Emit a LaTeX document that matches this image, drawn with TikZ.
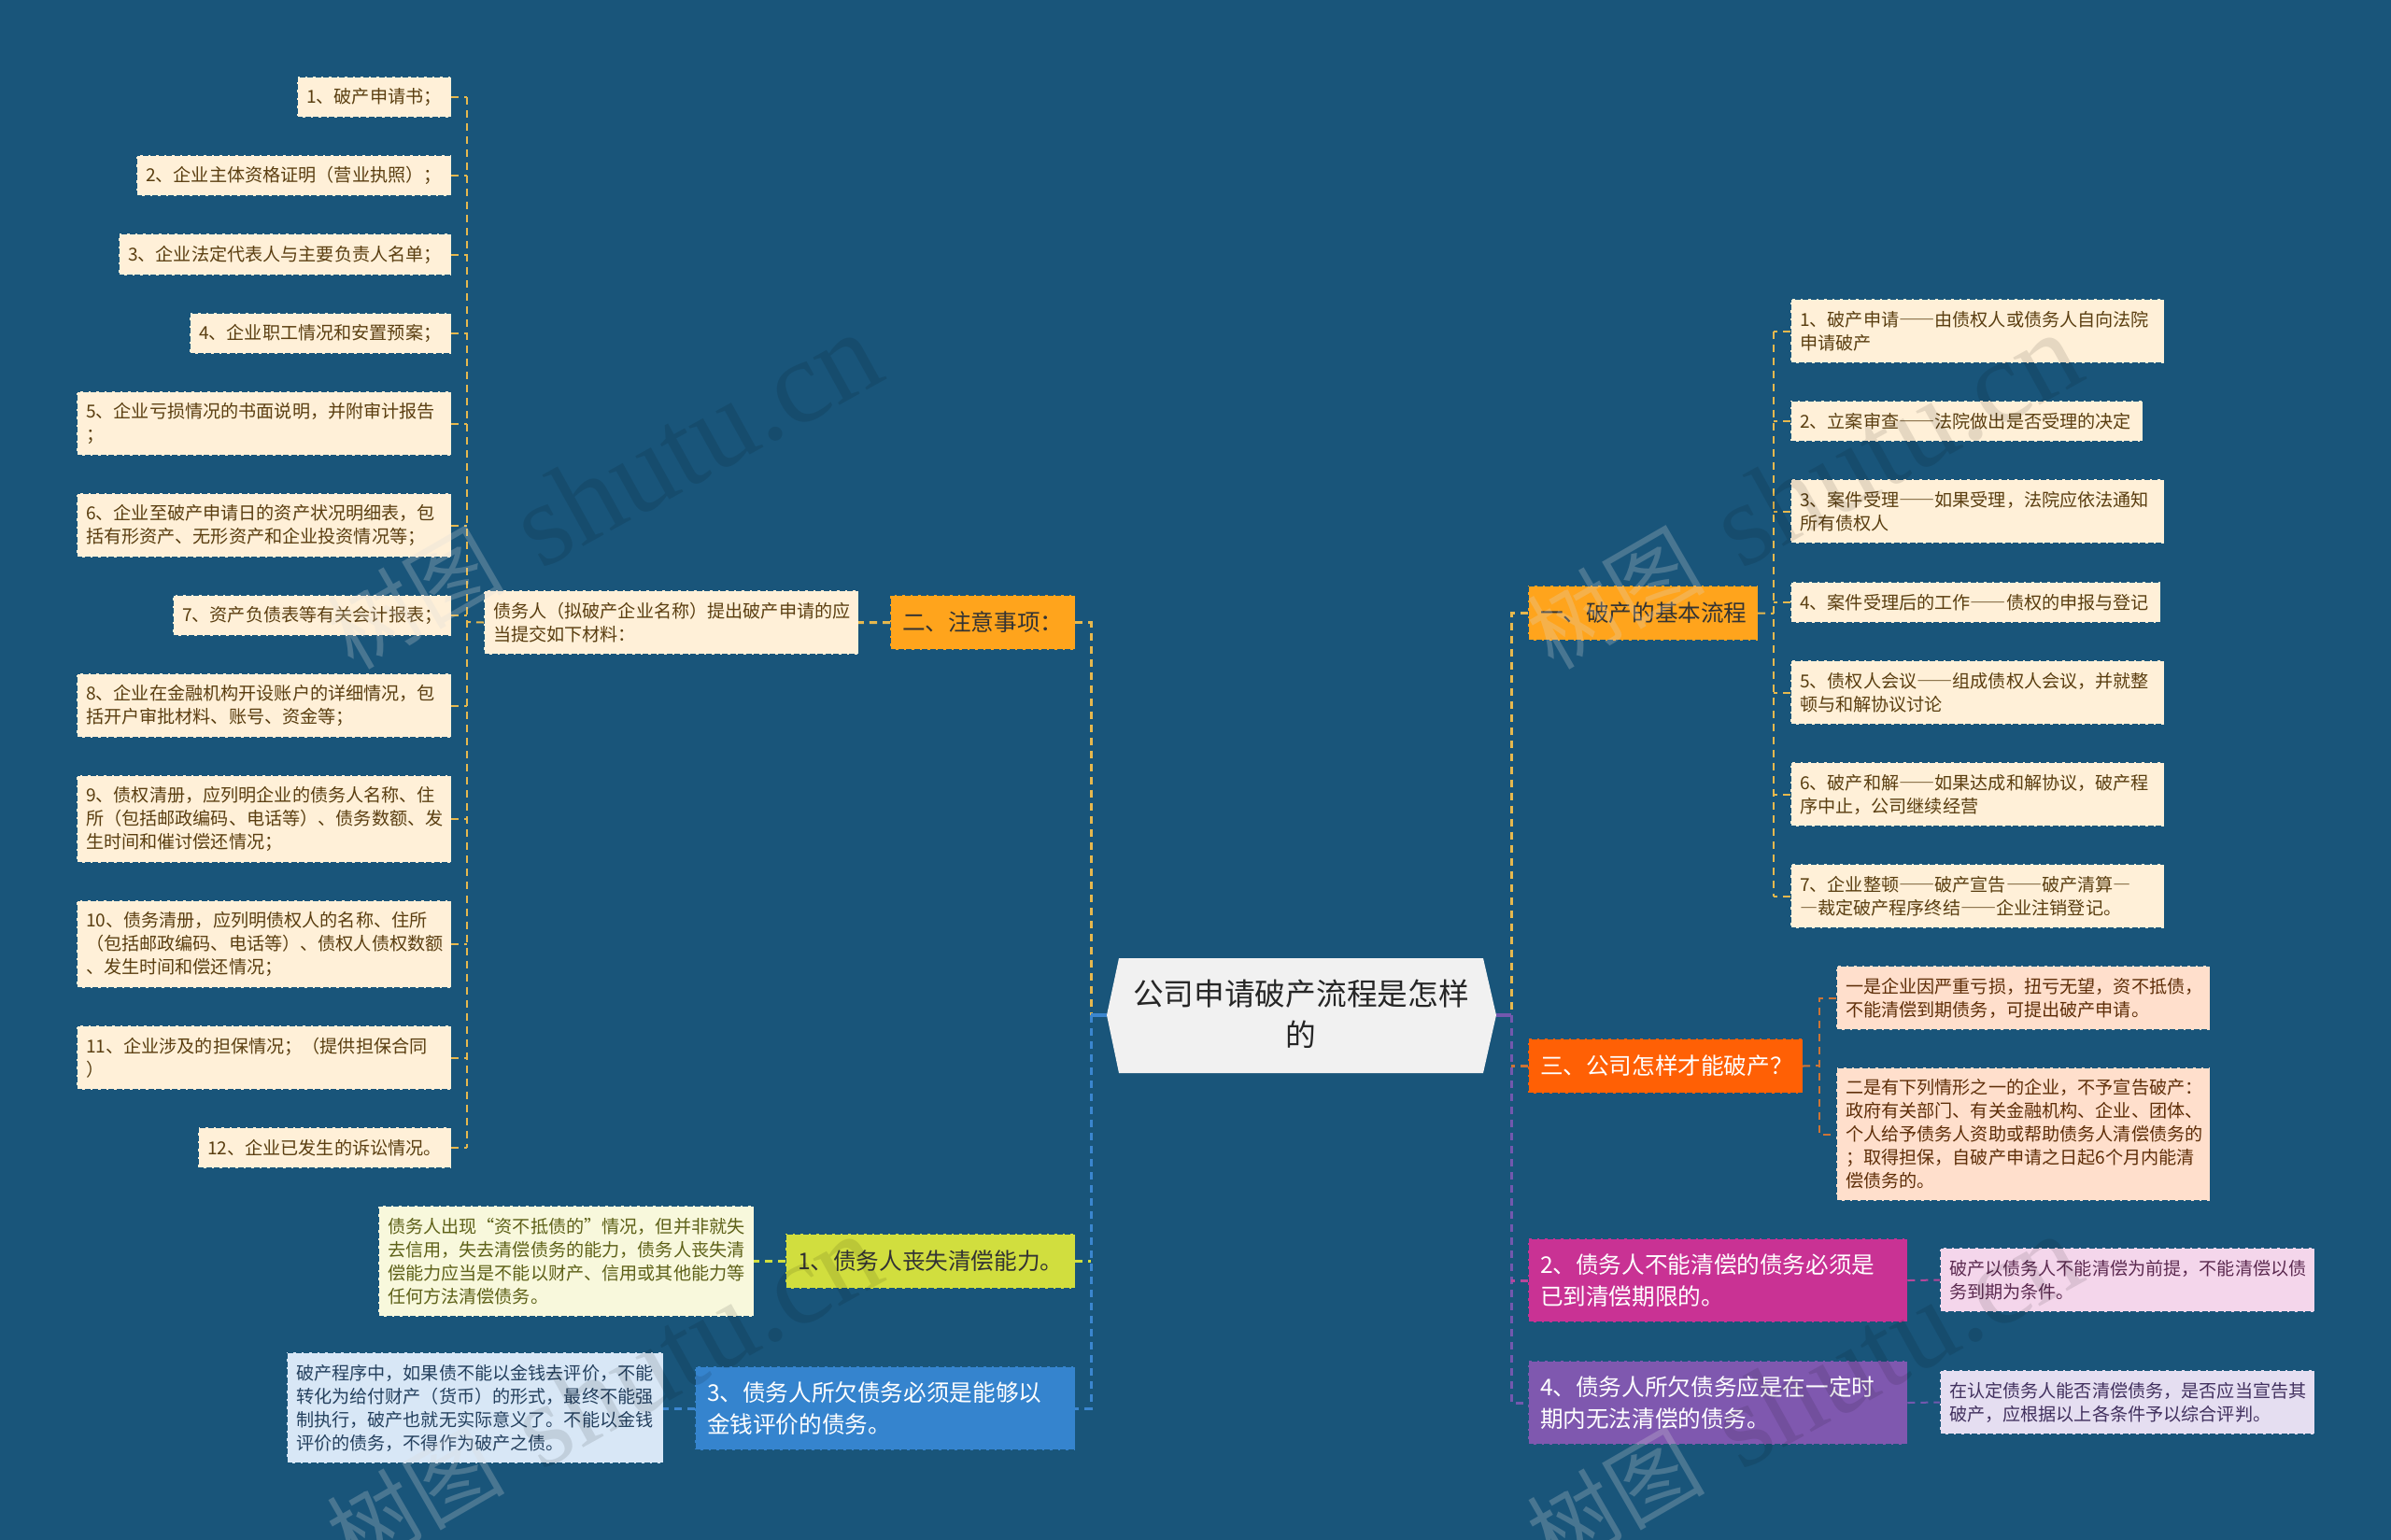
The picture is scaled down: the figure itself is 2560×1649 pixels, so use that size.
\documentclass[tikz,border=0pt]{standalone}
\usepackage{fontspec}
\setmainfont{Noto Sans CJK SC}
\newfontfamily\wmfont{Liberation Serif}
\newcommand{\fulldash}{{\addfontfeature{CharacterWidth=Full}—}}
\definecolor{bgblue}{HTML}{19557A}
\definecolor{rootgray}{HTML}{F1F1F1}
\definecolor{creamfill}{HTML}{FFF0D8}
\definecolor{creamtext}{HTML}{5A3E10}
\definecolor{limefill}{HTML}{F8F8DC}
\definecolor{limetext}{HTML}{5E6118}
\definecolor{skyfill}{HTML}{D8E7F6}
\definecolor{skytext}{HTML}{24405E}
\definecolor{peachfill}{HTML}{FFDFCC}
\definecolor{peachtext}{HTML}{5E2E08}
\definecolor{pinkfill}{HTML}{F4D6EB}
\definecolor{pinktext}{HTML}{5C2A50}
\definecolor{lilacfill}{HTML}{E5DEF1}
\definecolor{lilactext}{HTML}{41305E}
\definecolor{amberbox}{HTML}{FFA41C}
\definecolor{redbox}{HTML}{FF6005}
\definecolor{magentabox}{HTML}{C93294}
\definecolor{violetbox}{HTML}{7F58AF}
\definecolor{bluebox}{HTML}{3584CE}
\definecolor{limebox}{HTML}{D1DE3E}
\definecolor{goldline}{HTML}{E6B84E}
\definecolor{rustline}{HTML}{CC7436}
\definecolor{pinkline}{HTML}{B8479B}
\definecolor{violetline}{HTML}{7358AE}
\definecolor{blueline}{HTML}{3B86CF}
\tikzset{
	basebox/.style={rectangle, anchor=north west, align=left, outer sep=0pt, inner ysep=0pt, draw=bgblue, line width=0.012cm, dash pattern=on 0.06cm off 0.025cm},
	leafbox/.style={basebox, inner xsep=0.1cm, font=\fontsize{5.44pt}{7.11pt}\selectfont},
	creamleaf/.style={leafbox, fill=creamfill, text=creamtext},
	limeleaf/.style={leafbox, fill=limefill, text=limetext},
	skyleaf/.style={leafbox, fill=skyfill, text=skytext},
	peachleaf/.style={leafbox, fill=peachfill, text=peachtext},
	pinkleaf/.style={leafbox, fill=pinkfill, text=pinktext},
	lilacleaf/.style={leafbox, fill=lilacfill, text=lilactext},
	branchbox/.style={basebox, inner xsep=0.13cm, font=\fontsize{7.0pt}{9.67pt}\selectfont},
	linkthin/.style={line width=0.02cm, dash pattern=on 0.08cm off 0.06cm},
	linkthick/.style={line width=0.03cm, dash pattern=on 0.08cm off 0.06cm}
}
\begin{document}
\begin{tikzpicture}[x=0.01cm,y=-0.01cm]
	\useasboundingbox (0,0) rectangle (2560,1649);
	\fill[bgblue] (0,0) rectangle (2560,1649);

	\coordinate (tipL) at (1185,1087);
	\coordinate (tipR) at (1602,1087);
	\coordinate (hubL) at (1168,1087);
	\coordinate (hubR) at (1618,1087);
	\coordinate (hubDocs) at (500,666);
	\coordinate (hubSteps) at (1899,657);
	\coordinate (hubCond) at (1948,1141);

	\node[creamleaf, text width=1.45cm, minimum height=0.44cm] (docA) at (318,82) {1、破产申请书；};
	\node[creamleaf, text width=3.17cm, minimum height=0.44cm] (docB) at (146,166) {2、企业主体资格证明（营业执照）；};
	\node[creamleaf, text width=3.36cm, minimum height=0.45cm] (docC) at (127,250) {3、企业法定代表人与主要负责人名单；};
	\node[creamleaf, text width=2.6cm, minimum height=0.44cm] (docD) at (203,335) {4、企业职工情况和安置预案；};
	\node[creamleaf, text width=3.81cm, minimum height=0.69cm] (docE) at (82,419) {5、企业亏损情况的书面说明，并附审计报告\\；};
	\node[creamleaf, text width=3.81cm, minimum height=0.69cm] (docF) at (82,528) {6、企业至破产申请日的资产状况明细表，包\\括有形资产、无形资产和企业投资情况等；};
	\node[creamleaf, text width=2.78cm, minimum height=0.44cm] (docG) at (185,637) {7、资产负债表等有关会计报表；};
	\node[creamleaf, text width=3.81cm, minimum height=0.69cm] (docH) at (82,721) {8、企业在金融机构开设账户的详细情况，包\\括开户审批材料、账号、资金等；};
	\node[creamleaf, text width=3.81cm, minimum height=0.94cm] (docI) at (82,830) {9、债权清册，应列明企业的债务人名称、住\\所（包括邮政编码、电话等）、债务数额、发\\生时间和催讨偿还情况；};
	\node[creamleaf, text width=3.81cm, minimum height=0.94cm] (docJ) at (82,964) {10、债务清册，应列明债权人的名称、住所\\（包括邮政编码、电话等）、债权人债权数额\\、发生时间和偿还情况；};
	\node[creamleaf, text width=3.81cm, minimum height=0.69cm] (docK) at (82,1098) {11、企业涉及的担保情况；（提供担保合同\\）};
	\node[creamleaf, text width=2.51cm, minimum height=0.44cm] (docL) at (212,1207) {12、企业已发生的诉讼情况。};
	\node[creamleaf, text width=3.81cm, minimum height=0.69cm] (docs) at (518,632) {债务人（拟破产企业名称）提出破产申请的应\\当提交如下材料：};

	\node[branchbox, fill=amberbox, text=black!80, text width=1.72cm, minimum height=0.59cm] (notice) at (953,637) {二、注意事项：};
	\node[branchbox, fill=limebox, text=black!80, text width=2.84cm, minimum height=0.59cm] (lost) at (841,1321) {1、债务人丧失清偿能力。};
	\node[branchbox, fill=bluebox, text=white, text width=3.81cm, minimum height=0.9cm] (money) at (744,1463) {3、债务人所欠债务必须是能够以\\金钱评价的债务。};
	\node[limeleaf, text width=3.82cm, minimum height=1.19cm] (lostNote) at (405,1291) {债务人出现“资不抵债的”情况，但并非就失\\去信用，失去清偿债务的能力，债务人丧失清\\偿能力应当是不能以财产、信用或其他能力等\\任何方法清偿债务。};
	\node[skyleaf, text width=3.83cm, minimum height=1.19cm] (moneyNote) at (307,1448) {破产程序中，如果债不能以金钱去评价，不能\\转化为给付财产（货币）的形式，最终不能强\\制执行，破产也就无实际意义了。不能以金钱\\评价的债务，不得作为破产之债。};

	\node[branchbox, fill=amberbox, text=black!80, text width=2.2cm, minimum height=0.59cm] (steps) at (1636,627) {一、破产的基本流程};
	\node[creamleaf, text width=3.8cm, minimum height=0.69cm] (stepA) at (1917,320) {\mbox{1、破产申请\fulldash\fulldash 由债权人或债务人自向法院}\\申请破产};
	\node[creamleaf, text width=3.57cm, minimum height=0.44cm] (stepB) at (1917,429) {\mbox{2、立案审查\fulldash\fulldash 法院做出是否受理的决定}};
	\node[creamleaf, text width=3.8cm, minimum height=0.69cm] (stepC) at (1917,513) {\mbox{3、案件受理\fulldash\fulldash 如果受理，法院应依法通知}\\所有债权人};
	\node[creamleaf, text width=3.76cm, minimum height=0.44cm] (stepD) at (1917,623) {\mbox{4、案件受理后的工作\fulldash\fulldash 债权的申报与登记}};
	\node[creamleaf, text width=3.8cm, minimum height=0.69cm] (stepE) at (1917,707) {\mbox{5、债权人会议\fulldash\fulldash 组成债权人会议，并就整}\\顿与和解协议讨论};
	\node[creamleaf, text width=3.8cm, minimum height=0.69cm] (stepF) at (1917,816) {\mbox{6、破产和解\fulldash\fulldash 如果达成和解协议，破产程}\\序中止，公司继续经营};
	\node[creamleaf, text width=3.8cm, minimum height=0.69cm] (stepG) at (1917,925) {\mbox{7、企业整顿\fulldash\fulldash 破产宣告\fulldash\fulldash 破产清算\fulldash}\\\mbox{\fulldash 裁定破产程序终结\fulldash\fulldash 企业注销登记。}};

	\node[branchbox, fill=redbox, text=white, text width=2.68cm, minimum height=0.59cm] (cond) at (1636,1112) {三、公司怎样才能破产？};
	\node[peachleaf, text width=3.8cm, minimum height=0.69cm] (condA) at (1966,1034) {一是企业因严重亏损，扭亏无望，资不抵债，\\不能清偿到期债务，可提出破产申请。};
	\node[peachleaf, text width=3.8cm, minimum height=1.43cm] (condB) at (1966,1143) {二是有下列情形之一的企业，不予宣告破产：\\政府有关部门、有关金融机构、企业、团体、\\个人给予债务人资助或帮助债务人清偿债务的\\；取得担保，自破产申请之日起6个月内能清\\偿债务的。};

	\node[branchbox, fill=magentabox, text=white, text width=3.8cm, minimum height=0.9cm] (due) at (1636,1326) {2、债务人不能清偿的债务必须是\\已到清偿期限的。};
	\node[pinkleaf, text width=3.81cm, minimum height=0.69cm] (dueNote) at (2077,1336) {破产以债务人不能清偿为前提，不能清偿以债\\务到期为条件。};
	\node[branchbox, fill=violetbox, text=white, text width=3.8cm, minimum height=0.9cm] (term) at (1636,1457) {4、债务人所欠债务应是在一定时\\期内无法清偿的债务。};
	\node[lilacleaf, text width=3.81cm, minimum height=0.69cm] (termNote) at (2077,1467) {在认定债务人能否清偿债务，是否应当宣告其\\破产，应根据以上各条件予以综合评判。};

	\fill[rootgray] (tipL) -- (1198,1026) -- (1588,1026) -- (tipR) -- (1588,1149) -- (1198,1149) -- cycle;
	\node[align=center, text=black!85, font=\fontsize{9.3pt}{12.4pt}\selectfont, inner sep=0pt] (root) at (1393,1086) {公司申请破产流程是怎样\\的};

	\foreach \n in {docA,docB,docC,docD,docE,docF,docG,docH,docI,docJ,docK,docL}
		\draw[linkthin, goldline] (\n.east) -- (\n.east -| hubDocs);
	\draw[linkthin, goldline] (docA.east -| hubDocs) -- (docL.east -| hubDocs);
	\draw[linkthin, goldline] (docs.west) -- (hubDocs);
	\draw[linkthick, goldline] (notice.west) -- (docs.east);
	\draw[linkthick, goldline] (notice.east) -- (notice.east -| hubL) -- (hubL);

	\foreach \n in {stepA,stepB,stepC,stepD,stepE,stepF,stepG}
		\draw[linkthin, goldline] (\n.west) -- (\n.west -| hubSteps);
	\draw[linkthin, goldline] (stepA.west -| hubSteps) -- (stepG.west -| hubSteps);
	\draw[linkthin, goldline] (steps.east) -- (hubSteps);
	\draw[linkthick, goldline] (steps.west) -- (steps.west -| hubR) -- (hubR);

	\draw[linkthin, rustline] (cond.east) -- (hubCond);
	\draw[linkthin, rustline] (condA.west) -- (condA.west -| hubCond) -- (condB.west -| hubCond) -- (condB.west);

	\draw[linkthick, blueline] (hubL) -- (money.east -| hubL) -- (money.east);
	\draw[linkthick, limebox] (lost.east) -- (lost.east -| hubL);
	\draw[linkthick, limebox] (lost.west) -- (lostNote.east |- lost.west);
	\draw[linkthick, blueline] (money.west) -- (moneyNote.east |- money.west);

	\draw[linkthick, violetline] (hubR) -- (term.west -| hubR) -- (term.west);
	\draw[linkthick, rustline] (cond.west) -- (cond.west -| hubR);
	\draw[linkthick, pinkline] (due.west) -- (due.west -| hubR);
	\draw[linkthin, pinkline] (due.east) -- (dueNote.west);
	\draw[linkthin, violetline] (term.east) -- (termNote.west);

	\draw[line width=0.035cm, blueline] (hubL) -- (tipL);
	\draw[line width=0.035cm, violetline] (tipR) -- (hubR);

	\foreach \dx/\dy in {0/0,1285/0,0/965,1285/965} {
		\node[rotate=30, text=white!70!gray, opacity=0.25, font=\fontsize{27pt}{27pt}\selectfont, inner sep=0pt] (wmCn) at (443+\dx,640+\dy) {树图};
		\node[rotate=29, text=black, opacity=0.1, font=\wmfont\fontsize{36pt}{36pt}\selectfont, inner sep=0pt] (wmEn) at (745+\dx,470+\dy) {shutu.cn};
	}
\end{tikzpicture}
\end{document}
